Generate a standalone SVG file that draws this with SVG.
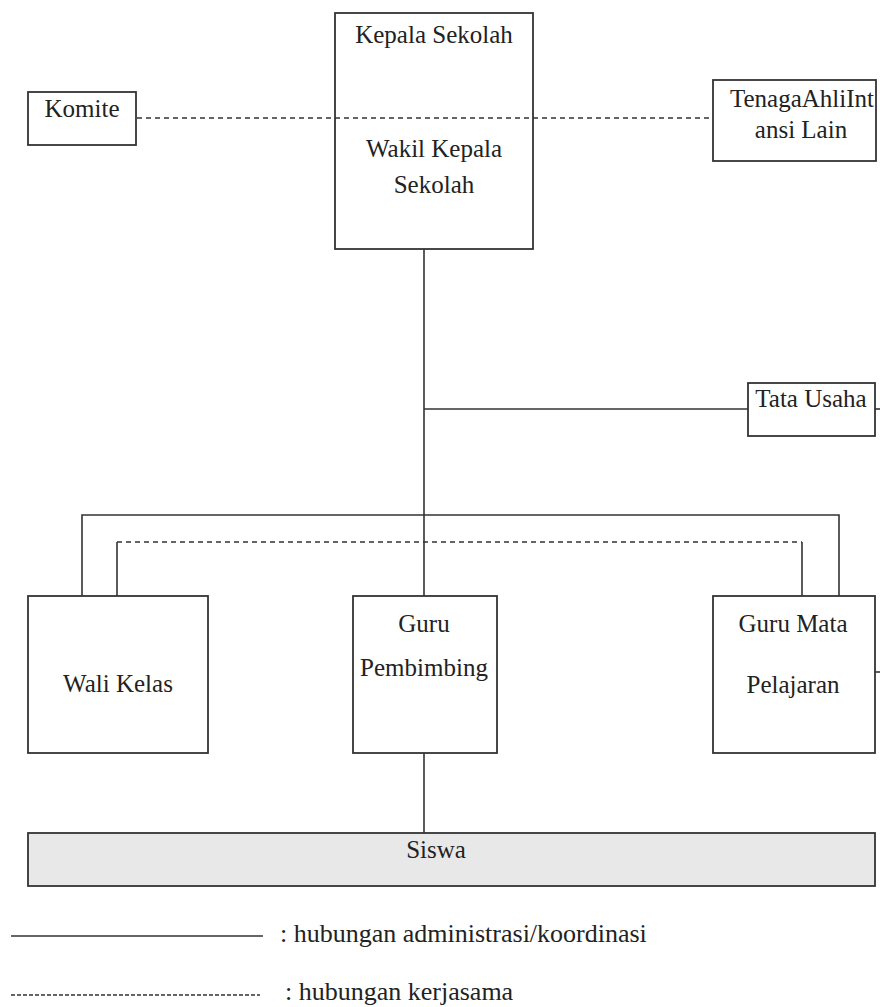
<svg xmlns="http://www.w3.org/2000/svg" width="880" height="1007" viewBox="0 0 880 1007">
<style>
.box{fill:#fff;stroke:#333;stroke-width:1.8}
.ln{fill:none;stroke:#333;stroke-width:1.6}
.dl{fill:none;stroke:#333;stroke-width:1.6;stroke-dasharray:5 4}
.t{font-family:"Liberation Serif","Times New Roman",serif;font-size:25px;fill:#222;text-anchor:middle}
.lg{font-family:"Liberation Serif","Times New Roman",serif;font-size:26px;fill:#222}
</style>
<rect width="880" height="1007" fill="#fff"/>
<g id="connectors">
<line class="dl" x1="137" y1="118" x2="713" y2="118"/>
<line class="ln" x1="424" y1="249" x2="424" y2="596"/>
<line class="ln" x1="424" y1="409" x2="748" y2="409"/>
<line class="ln" x1="875" y1="409" x2="880" y2="409"/>
<polyline class="ln" points="82,596 82,515 839,515 839,596"/>
<line class="ln" x1="117" y1="596" x2="117" y2="542"/>
<line class="dl" x1="117" y1="542" x2="802" y2="542"/>
<line class="ln" x1="802" y1="542" x2="802" y2="596"/>
<line class="ln" x1="875" y1="672" x2="880" y2="672"/>
<line class="ln" x1="424" y1="753" x2="424" y2="833"/>
</g>
<g id="kepala">
<rect class="box" x="335" y="13" width="198" height="236" style="fill:none"/>
<text class="t" x="434" y="43">Kepala Sekolah</text>
<text class="t" x="434" y="157">Wakil Kepala</text>
<text class="t" x="434" y="193">Sekolah</text>
</g>
<g id="komite">
<rect class="box" x="28" y="92" width="108" height="53"/>
<text class="t" x="82" y="117">Komite</text>
</g>
<g id="tenaga">
<rect class="box" x="713" y="80" width="163" height="81"/>
<text class="t" x="802" y="107">TenagaAhliInt</text>
<text class="t" x="801" y="138">ansi Lain</text>
</g>
<g id="tata-usaha">
<rect class="box" x="748" y="383" width="127" height="53"/>
<text class="t" x="811" y="407">Tata Usaha</text>
</g>
<g id="wali-kelas">
<rect class="box" x="28" y="596" width="180" height="157"/>
<text class="t" x="118" y="692">Wali Kelas</text>
</g>
<g id="guru-pembimbing">
<rect class="box" x="353" y="596" width="144" height="157"/>
<text class="t" x="424" y="632">Guru</text>
<text class="t" x="424" y="676">Pembimbing</text>
</g>
<g id="guru-mapel">
<rect class="box" x="713" y="596" width="162" height="157"/>
<text class="t" x="793" y="632">Guru Mata</text>
<text class="t" x="793" y="693">Pelajaran</text>
</g>
<g id="siswa">
<rect class="box" x="28" y="833" width="847" height="53" style="fill:#e8e8e8"/>
<text class="t" x="436" y="858">Siswa</text>
</g>
<g id="legend">
<line class="ln" x1="11" y1="936" x2="263" y2="936"/>
<text class="lg" x="280" y="942">: hubungan administrasi/koordinasi</text>
<line class="ln" x1="11" y1="995" x2="260" y2="995" style="stroke-dasharray:4 2"/>
<text class="lg" x="285" y="1000">: hubungan kerjasama</text>
</g>
</svg>
